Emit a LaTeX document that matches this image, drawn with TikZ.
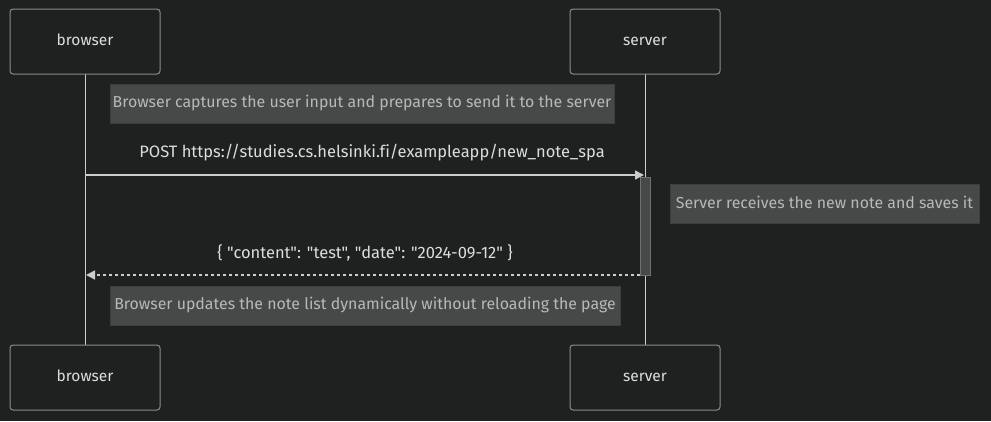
\documentclass[tikz,border=0pt]{standalone}
\usepackage{fontspec}
\setmainfont{Fira Sans}[Ligatures={TeXOff,NoCommon}]
\usetikzlibrary{arrows.meta}
\definecolor{bg}{HTML}{1F2020}
\definecolor{actfill}{HTML}{1F2020}
\definecolor{actborder}{HTML}{8A8A8A}
\definecolor{lifeline}{HTML}{CCCCCC}
\definecolor{notefill}{HTML}{474949}
\definecolor{noteborder}{HTML}{3C3E3E}
\definecolor{notetext}{HTML}{B8B8B8}
\definecolor{msgtext}{HTML}{DDDDDD}
\definecolor{actvfill}{HTML}{474949}
\definecolor{actvborder}{HTML}{707070}
\tikzset{
  actor/.style={draw=actborder, fill=actfill, line width=1pt, rounded corners=3pt,
    minimum width=150pt, minimum height=65pt, inner sep=0pt, text=msgtext,
    text height=0.95em, text depth=0.07em,
    font=\fontsize{15.5}{18}\selectfont},
  note/.style={draw=noteborder, fill=notefill, line width=1pt, inner sep=0pt,
    minimum height=39pt, text=notetext, text height=0.95em, text depth=0.07em,
    font=\fontsize{15.9}{18}\selectfont},
  msg/.style={text=msgtext, font=\fontsize{16.5}{18}\selectfont, inner sep=0pt,
    text height=0.95em, text depth=0.07em},
  life/.style={draw=lifeline, line width=1pt},
  arr/.style={draw=lifeline, line width=1.5pt, -{Triangle[length=9pt,width=9pt]}},
  retarr/.style={draw=lifeline, line width=1.5pt, dash pattern=on 3pt off 3pt, -{Triangle[length=9pt,width=9pt]}},
  actv/.style={draw=actvborder, fill=actvfill, line width=1pt}
}
\begin{document}
\begin{tikzpicture}[x=1pt,y=-1pt]
\fill[bg] (0,0) rectangle (991,421);
\useasboundingbox (0,0) rectangle (991,421);
% lifelines
\coordinate (bt) at (85,74);
\coordinate (bb) at (85,345);
\coordinate (st) at (645,74);
\coordinate (sb) at (645,345);
\draw[life] (bt) -- (bb);
\draw[life] (st) -- (sb);
% actors
\node[actor] (browserTop) at (85,41.5) {browser};
\node[actor] (serverTop) at (645,41.5) {server};
\node[actor] (browserBot) at (85,377.5) {browser};
\node[actor] (serverBot) at (645,377.5) {server};
% note 1
\node[note, minimum width=504pt] (n1) at (362,103.5) {Browser captures the user input and prepares to send it to the server};
% message 1
\node[msg] (m1) at (372,153) {POST https://studies.cs.helsinki.fi/exampleapp/new\_note\_spa};
\coordinate (a1s) at (85,175);
\coordinate (a1e) at (644,175);
\draw[arr] (a1s) -- (a1e);
% activation
\draw[actv] (640,177) rectangle (650,275.5);
% note 2
\node[note, minimum width=309pt] (n2) at (824.5,204) {Server receives the new note and saves it};
% return message
\node[msg] (m2) at (365,254) {\{ "content": "test", "date": "2024-09-12" \}};
\coordinate (a2s) at (640,275);
\coordinate (a2e) at (86,275);
\draw[retarr] (a2s) -- (a2e);
% note 3
\node[note, minimum width=510pt] (n3) at (365,305.5) {Browser updates the note list dynamically without reloading the page};
\end{tikzpicture}
\end{document}
